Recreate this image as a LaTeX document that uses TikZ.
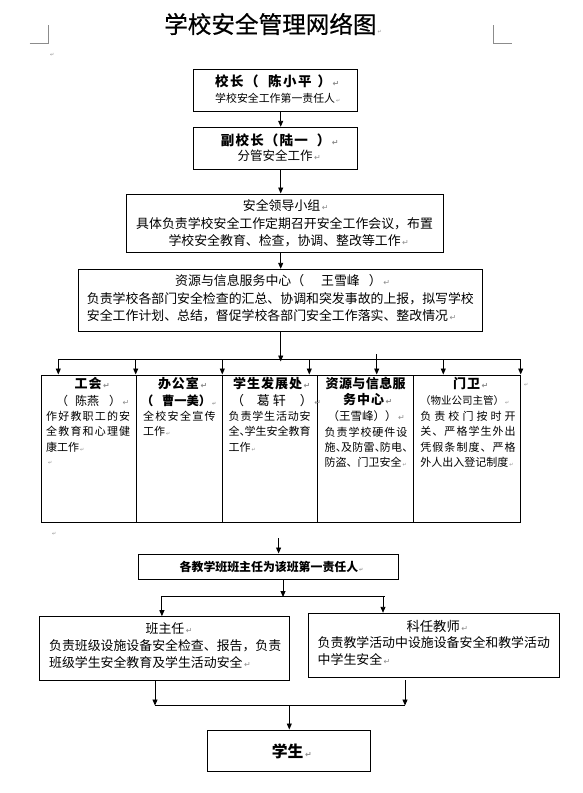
\documentclass[tikz,border=0pt]{standalone}
\usepackage{fontspec}
\setmainfont{Noto Sans CJK SC}
\newfontfamily\titlefont[FakeBold=0.6]{Noto Sans CJK SC}
\newfontfamily\dv{DejaVu Sans}
\usetikzlibrary{arrows.meta}
\def\gobbleone#1{}
\def\jB#1#2{#1\ifx\relax#2\expandafter\gobbleone\else\jglue\expandafter\jB\fi#2}
\newcommand\jglue{\hfil}
\newcommand\jl[2]{\makebox[#1][s]{\let\jglue\hfil\jB#2\relax}}
\newcommand\ls[2]{{\def\jglue{\hskip#1\relax}\jB#2\relax}}
\def\ga{\hskip3pt\relax}
\def\gb{\hskip6.5pt\relax}
\def\nar{\makebox[5pt][l]{、}}
\definecolor{mk}{HTML}{8C8C8C}
\newcommand\rmk{{\dv\fontsize{8pt}{8pt}\selectfont\color{mk}\hskip1.5pt\char"21B5}}
\newcommand\tmk{{\dv\fontsize{5pt}{5pt}\selectfont\color{mk}\hskip1pt\char"21B5}}
\tikzset{
  box/.style={draw, line width=1pt, inner sep=0pt},
  ln/.style={line width=0.9pt},
  arr/.style={line width=0.9pt, -{Triangle[length=6pt,width=5pt]}},
  t/.style={inner sep=0pt, anchor=west},
  tb/.style={t, font=\fontsize{12.9pt}{14pt}\selectfont},
  tc/.style={t, font=\fontsize{11pt}{12pt}\selectfont},
  th/.style={t, font=\fontsize{13pt}{14pt}\selectfont\bfseries},
  corner/.style={draw=mk, line width=0.8pt},
}
\begin{document}
\begin{tikzpicture}[x=1pt,y=-1pt]
\fill[white] (0,0) rectangle (582,793);
\useasboundingbox (0,0) rectangle (582,793);

% page corner marks
\draw[corner] (29.7,43.3) -- (48.3,43.3) -- (48.3,25);
\draw[corner] (493.7,25) -- (493.7,43.3) -- (511.5,43.3);
\node[t] (m0) at (49,55) {\tmk};

% title
\node[t, font=\fontsize{23.6pt}{28pt}\selectfont\titlefont] (title) at (164,24) {学校安全管理网络图\tmk};

% boxes
\node[box, minimum width=164pt, minimum height=41.7pt] (xz) at (275.3,90.15) {};
\node[box, minimum width=164pt, minimum height=42pt] (fxz) at (275.3,148.3) {};
\node[box, minimum width=317.3pt, minimum height=58.3pt] (ld) at (284.65,223.15) {};
\node[box, minimum width=404.4pt, minimum height=62.4pt] (zx) at (280.5,300.5) {};
\node[box, minimum width=95pt, minimum height=147.3pt] (c1) at (89.2,448.65) {};
\node[box, minimum width=86pt, minimum height=147.3pt] (c2) at (179.7,448.65) {};
\node[box, minimum width=94.6pt, minimum height=147.3pt] (c3) at (270,448.65) {};
\node[box, minimum width=96pt, minimum height=147.3pt] (c4) at (365.3,448.65) {};
\node[box, minimum width=107.4pt, minimum height=147.3pt] (c5) at (467,448.65) {};
\node[box, minimum width=260pt, minimum height=25.3pt] (cls) at (268.5,566.65) {};
\node[box, minimum width=249.7pt, minimum height=63.3pt] (bzr) at (164.45,648.35) {};
\node[box, minimum width=250.4pt, minimum height=64pt] (kr) at (434.1,645.3) {};
\node[box, minimum width=163.4pt, minimum height=41pt] (xs) at (289,750.5) {};

% box texts
\node[t, font=\fontsize{13.5pt}{15pt}\selectfont\bfseries] (xz1) at (215,81) {\ls{1.5pt}{校长（\gb 陈小平\ga ）}\rmk};
\node[t, font=\fontsize{10.9pt}{12pt}\selectfont] (xz2) at (215,98.3) {学校安全工作第一责任人\tmk};
\node[t, font=\fontsize{13.5pt}{15pt}\selectfont\bfseries] (fxz1) at (220.7,140) {\ls{1.2pt}{副校长（陆一\gb ）}\rmk};
\node[t, font=\fontsize{12.5pt}{14pt}\selectfont] (fxz2) at (237.3,156) {分管安全工作\rmk};

\node[tb] (ld1) at (242.7,206) {安全领导小组\rmk};
\node[tb] (ld2) at (136,223.3) {具体负责学校安全工作定期召开安全工作会议，布置};
\node[tb] (ld3) at (168.3,240.7) {学校安全教育、检查，协调、整改等工作\rmk};

\node[tb] (zx1) at (175,280.7) {资源与信息服务中心（\hspace{17pt}王雪峰\hspace{9pt}）\rmk};
\node[tb] (zx2) at (86.7,298.3) {负责学校各部门安全检查的汇总、协调和突发事故的上报，拟写学校};
\node[tb] (zx3) at (86.7,316) {安全工作计划、总结，督促学校各部门安全工作落实、整改情况\rmk};

% column 1
\node[th] (h1) at (74.5,383.3) {\ls{1pt}{工会}\rmk};
\node[t, font=\fontsize{12pt}{13pt}\selectfont] (n1) at (56,400.7) {（\hspace{7pt}陈燕\hspace{10pt}）\rmk};
\node[tc] (b11) at (46,416) {\jl{84pt}{作好教职工的安}};
\node[tc] (b12) at (46,431.6) {\jl{84pt}{全教育和心理健}};
\node[tc] (b13) at (46,447.2) {康工作\tmk};
\node[t] (b14) at (47,463.3) {\tmk};
% column 2
\node[th] (h2) at (157.8,383.3) {\ls{1pt}{办公室}\rmk};
\node[t, font=\fontsize{12.3pt}{13pt}\selectfont\bfseries] (n2) at (141,400.7) {（\hspace{8.5pt}曹一美）\tmk};
\node[tc] (b21) at (142.8,416) {\jl{72.7pt}{全校安全宣传}};
\node[tc] (b22) at (142.8,431.6) {工作\tmk};
% column 3
\node[th] (h3) at (233,383.3) {\ls{1pt}{学生发展处}\rmk};
\node[t, font=\fontsize{13pt}{14pt}\selectfont] (n3) at (231,400.7) {（\hspace{12.7pt}葛\hspace{3pt}轩\hspace{14pt}）\rmk};
\node[tc] (b31) at (228.5,416) {\jl{82pt}{负责学生活动安}};
\node[tc] (b32) at (228.5,431.6) {\jl{82pt}{全\nar 学生安全教育}};
\node[tc] (b33) at (228.5,447.2) {工作\tmk};
% column 4
\node[th] (h4) at (325.5,383.3) {\jl{80pt}{资源与信息服}};
\node[th] (h4b) at (343,400) {\ls{1pt}{务中心}\rmk};
\node[t, font=\fontsize{11.5pt}{12pt}\selectfont] (n4) at (327.5,416) {（王雪峰））\rmk};
\node[tc] (b41) at (324.5,432.7) {\jl{82.7pt}{负责学校硬件设}};
\node[tc] (b42) at (324.5,447.3) {\jl{82.7pt}{施\nar 及防雷\nar 防电\nar }};
\node[tc] (b43) at (324.5,462.7) {防盗、门卫安全\tmk};
% column 5
\node[th] (h5) at (453,383.3) {\ls{1pt}{门卫}\rmk};
\node[t, font=\fontsize{10.5pt}{12pt}\selectfont] (n5) at (420,400.7) {（物业公司主管）\tmk};
\node[tc] (b51) at (420.2,416) {\jl{95.3pt}{负责校门按时开}};
\node[tc] (b52) at (420.2,431.6) {\jl{95.3pt}{关、严格学生外出}};
\node[tc] (b53) at (420.2,447.2) {\jl{95.3pt}{凭假条制度、严格}};
\node[tc] (b54) at (420.2,462.7) {外人出入登记制度\tmk};
\node[t] (m5) at (523,385) {\tmk};

\node[t] (m6) at (51,534) {\tmk};

% class box
\node[t, font=\fontsize{11.9pt}{13pt}\selectfont\bfseries] (cls1) at (179.5,566.7) {各教学班班主任为该班第一责任人\tmk};
\node[tb] (bzr1) at (145.4,628.3) {班主任\rmk};
\node[tb] (bzr2) at (48.9,646) {负责班级设施设备安全检查、报告，负责};
\node[tb] (bzr3) at (48.9,662.7) {班级学生安全教育及学生活动安全\rmk};
\node[t, font=\fontsize{13.3pt}{14pt}\selectfont] (kr1) at (406.4,626) {科任教师\rmk};
\node[tb] (kr2) at (317.5,642.7) {负责教学活动中设施设备安全和教学活动};
\node[tb] (kr3) at (317.5,659.3) {中学生安全\rmk};
\node[t, font=\fontsize{15.8pt}{17pt}\selectfont\bfseries] (xs1) at (271.7,751.7) {学生\rmk};

% connectors top
\coordinate (cA) at (280.7,0);
\draw[arr] (xz.south -| cA) -- (fxz.north -| cA);
\draw[arr] (fxz.south -| cA) -- (ld.north -| cA);
\draw[arr] (ld.south -| cA) -- (zx.north -| cA);
\coordinate (bus1C) at (280.7,361.5);
\draw[arr] (zx.south -| cA) -- (bus1C);
\coordinate (bus1L) at (58.3,359);
\coordinate (bus1R) at (520.7,359);
\draw[ln] (bus1L) -- (bus1R);
\foreach \x [count=\i] in {58.3,135.7,222.3,309.3,443.3,520.7} {
  \coordinate (drop\i) at (\x,359);
  \draw[arr] (drop\i) -- (drop\i |- c1.north);
}
\coordinate (dropZ) at (376.7,354);
\draw[arr] (dropZ) -- (dropZ |- c4.north);

% lower connectors
\coordinate (clsIn) at (278.6,538.3);
\draw[arr] (clsIn) -- (clsIn |- cls.north);
\coordinate (b2C) at (283,597);
\draw[arr] (cls.south -| b2C) -- (b2C);
\coordinate (b2L) at (161.9,596);
\coordinate (b2R) at (385.4,596);
\coordinate (b2D) at (383,596);
\draw[ln] (b2L) -- (b2R);
\draw[arr] (b2L) -- (b2L |- bzr.north);
\draw[arr] (b2D) -- (b2D |- kr.north);

\coordinate (b3L) at (155,705.5);
\coordinate (b3R) at (405,705.5);
\coordinate (krOut) at (405,680);
\draw[arr] (bzr.south -| b3L) -- (b3L);
\draw[arr] (krOut) -- (b3R);
\coordinate (b3l) at (155,705);
\coordinate (b3r) at (405,705);
\draw[ln] (b3l) -- (b3r);
\coordinate (b3C) at (289.3,705);
\draw[arr] (b3C) -- (b3C |- xs.north);
\end{tikzpicture}
\end{document}
